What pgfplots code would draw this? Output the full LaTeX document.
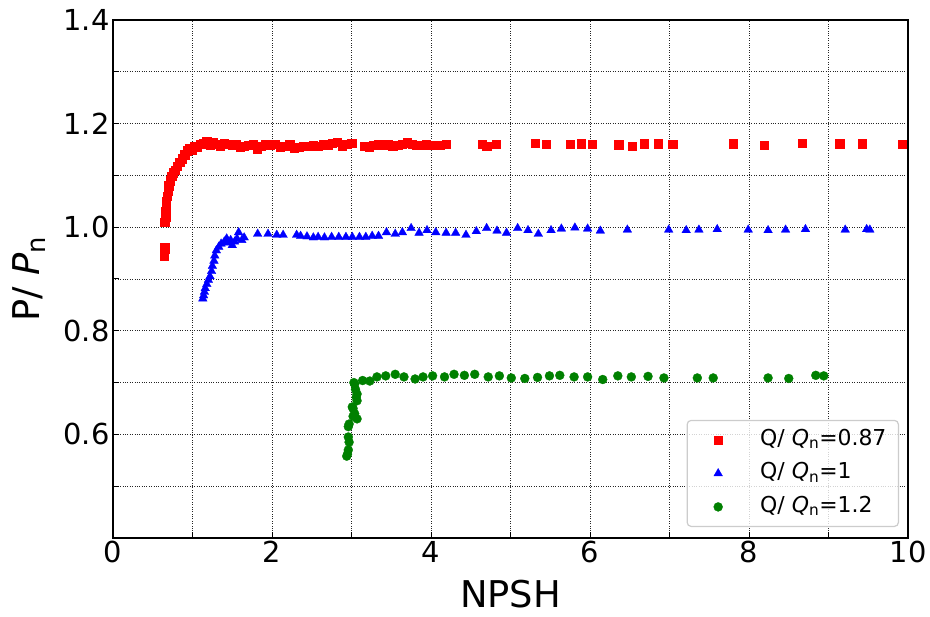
\documentclass[border=0pt]{standalone}
\usepackage{fontspec}
\setmainfont{DejaVu Sans}
\usepackage{pgfplots}
\pgfplotsset{compat=1.18}
\definecolor{mgreen}{RGB}{0,128,0}
\begin{document}
\begin{tikzpicture}
\begin{axis}[
  scale only axis, width=795bp, height=518bp,
  xmin=0, xmax=10, ymin=0.4, ymax=1.4,
  xtick={0,2,4,6,8,10}, minor xtick={1,3,5,7,9},
  ytick={0.6,0.8,1.0,1.2,1.4}, minor ytick={0.5,0.7,0.9,1.1,1.3},
  tick align=inside, xtick pos=bottom, ytick pos=left,
  major tick length=6bp, minor tick length=6bp,
  every tick/.style={black, line width=1bp},
  minor tick style={black, line width=1bp},
  grid=both,
  major grid style={dotted, black!85, line width=0.7bp},
  minor grid style={dotted, black!85, line width=0.7bp},
  axis line style={line width=1.5bp},
  /pgf/number format/assume math mode=true,
  tick label style={font=\fontsize{29}{34}\selectfont},
  yticklabel style={/pgf/number format/fixed, /pgf/number format/fixed zerofill, /pgf/number format/precision=1},
  xlabel={NPSH}, ylabel={P/ \textit{P}\textsubscript{n}},
  label style={font=\fontsize{37}{44}\selectfont},
  xlabel style={at={(axis description cs:0.5,-0.135)}, anchor=base},
  ylabel style={at={(axis description cs:-0.092,0.5)}, anchor=base},
  legend cell align=left,
  legend image code/.code={\path[draw=none, fill=none] (-19bp,-1bp) rectangle (34bp,1bp); \draw[#1, fill opacity=1, draw opacity=1, opacity=1] plot coordinates {(0bp,0bp)};},
  legend style={at={(rel axis cs:0.9887,0.0212)}, anchor=south east,
    draw=black!20, line width=1.2bp, rounded corners=4bp,
    fill=white, fill opacity=0.8, draw opacity=1, text opacity=1,
    font=\fontsize{22}{26}\selectfont,
    inner xsep=12bp, inner ysep=9bp, column sep=8bp, row sep=12.5bp,
    nodes={inner sep=0bp, text height=16bp, text depth=5bp}},
]
\addplot[only marks, mark=square*, mark size=4.2bp, mark options={draw=red, fill=red, line width=0.3bp}] coordinates {
(0.64,0.945)(0.64,0.952)(0.65,0.958)(0.65,0.962)
(0.65,1.010)(0.66,1.020)(0.66,1.030)(0.67,1.040)(0.67,1.050)(0.68,1.060)(0.69,1.070)(0.70,1.080)
(0.72,1.090)(0.74,1.098)(0.76,1.105)(0.78,1.110)(0.81,1.118)(0.84,1.125)(0.87,1.132)(0.90,1.140)
(0.93,1.148)(0.96,1.153)(0.99,1.150)(1.02,1.157)(1.06,1.155)(1.10,1.160)(1.14,1.162)(1.18,1.165)
(1.22,1.158)(1.26,1.163)(1.30,1.160)(1.35,1.157)(1.40,1.162)(1.45,1.160)(1.50,1.158)(1.55,1.160)
(1.60,1.155)(1.65,1.157)(1.70,1.158)(1.76,1.160)(1.81,1.152)(1.86,1.157)(1.92,1.160)(1.98,1.158)
(2.04,1.160)(2.10,1.155)(2.16,1.157)(2.22,1.160)(2.28,1.153)(2.34,1.155)(2.40,1.157)(2.46,1.156)
(2.52,1.158)(2.58,1.157)(2.64,1.160)(2.70,1.158)(2.76,1.162)(2.82,1.164)(2.88,1.157)(2.94,1.160)
(3.00,1.162)(3.16,1.157)(3.22,1.155)(3.28,1.158)(3.34,1.160)(3.40,1.158)(3.46,1.160)(3.52,1.157)
(3.58,1.158)(3.64,1.160)(3.70,1.163)(3.76,1.160)(3.82,1.158)(3.88,1.158)(3.94,1.160)(4.00,1.158)
(4.11,1.158)(4.19,1.160)(4.64,1.160)(4.70,1.157)(4.82,1.160)(5.31,1.162)(5.45,1.160)(5.75,1.160)
(5.89,1.161)(6.03,1.160)(6.36,1.159)(6.53,1.156)(6.68,1.161)(6.86,1.161)(7.04,1.160)(7.80,1.161)
(8.19,1.158)(8.67,1.162)(9.14,1.161)(9.42,1.161)(9.93,1.160)
};
\addlegendentry{Q/ \textit{Q}\textsubscript{n}=0.87}
\addplot[only marks, mark=triangle*, mark size=5bp, mark options={draw=blue, fill=blue, line width=0.3bp}] coordinates {
(1.13,0.862)(1.14,0.868)(1.15,0.875)(1.16,0.882)(1.18,0.890)(1.20,0.898)(1.22,0.905)(1.24,0.915)
(1.25,0.925)(1.27,0.935)(1.28,0.945)(1.30,0.955)(1.33,0.962)(1.36,0.968)(1.40,0.972)(1.43,0.978)
(1.45,0.970)(1.48,0.975)(1.50,0.965)(1.53,0.972)(1.56,0.978)(1.58,0.990)(1.62,0.975)(1.65,0.980)
(1.82,0.987)(1.95,0.987)(2.06,0.985)(2.14,0.985)(2.31,0.985)(2.36,0.983)(2.44,0.982)(2.52,0.980)
(2.58,0.981)(2.66,0.980)(2.75,0.981)(2.84,0.981)(2.93,0.981)(3.01,0.981)(3.10,0.981)(3.18,0.981)
(3.26,0.983)(3.34,0.983)(3.44,0.990)(3.55,0.987)(3.64,0.990)(3.75,0.998)(3.85,0.989)(3.95,0.994)
(4.06,0.990)(4.19,0.989)(4.31,0.989)(4.44,0.985)(4.57,0.992)(4.70,0.998)(4.83,0.993)(4.95,0.989)
(5.09,0.998)(5.22,0.994)(5.35,0.987)(5.51,0.994)(5.64,0.997)(5.81,0.999)(5.97,0.997)(6.13,0.993)
(6.47,0.995)(6.99,0.995)(7.21,0.994)(7.37,0.995)(7.60,0.996)(7.99,0.995)(8.24,0.994)(8.46,0.995)
(8.71,0.996)(9.21,0.995)(9.48,0.996)(9.52,0.995)
};
\addlegendentry{Q/ \textit{Q}\textsubscript{n}=1}
\addplot[only marks, mark=*, mark size=4.5bp, mark options={draw=mgreen, fill=mgreen, line width=0.3bp}] coordinates {
(2.94,0.558)(2.95,0.562)(2.96,0.570)(2.97,0.585)(2.96,0.595)(2.96,0.615)(2.97,0.620)(3.02,0.635)
(3.07,0.630)(3.04,0.640)(3.02,0.650)(3.01,0.653)(3.07,0.665)(3.06,0.672)(3.07,0.678)(3.05,0.687)
(3.04,0.697)(3.03,0.700)(3.14,0.704)(3.23,0.703)(3.32,0.711)(3.43,0.713)(3.55,0.716)(3.66,0.711)
(3.80,0.707)(3.90,0.711)(4.02,0.713)(4.17,0.711)(4.29,0.716)(4.42,0.714)(4.55,0.716)(4.72,0.711)
(4.86,0.713)(5.01,0.709)(5.18,0.708)(5.34,0.710)(5.49,0.713)(5.62,0.714)(5.80,0.711)(5.97,0.711)
(6.16,0.706)(6.35,0.713)(6.52,0.711)(6.73,0.712)(6.93,0.709)(7.35,0.709)(7.55,0.709)(8.24,0.709)
(8.50,0.708)(8.84,0.714)(8.94,0.713)
};
\addlegendentry{Q/ \textit{Q}\textsubscript{n}=1.2}
\coordinate (bl) at (rel axis cs:0,0);
\coordinate (tr) at (rel axis cs:1,1);
\end{axis}
\pgfresetboundingbox
\path[use as bounding box] ([xshift=-113bp,yshift=-79bp]bl) rectangle ([xshift=22bp,yshift=20bp]tr);
\end{tikzpicture}
\end{document}
